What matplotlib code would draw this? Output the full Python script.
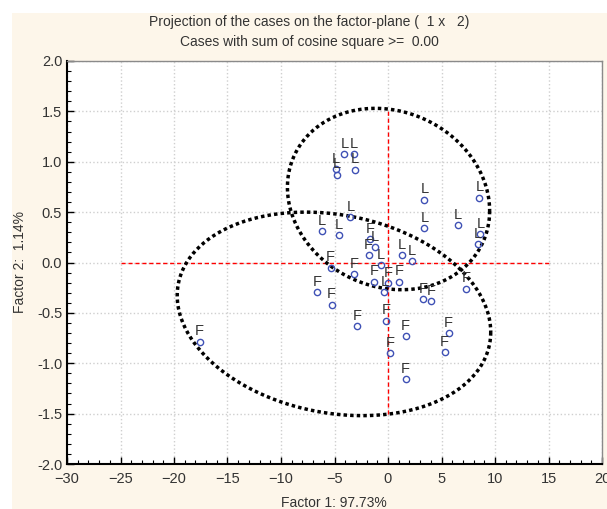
import numpy as np
import matplotlib
matplotlib.use('Agg')
import matplotlib.pyplot as plt
from matplotlib.patches import Rectangle
from matplotlib.ticker import MultipleLocator

plt.rcParams['font.family'] = ['Liberation Sans', 'DejaVu Sans']

# case coordinates (factor 1, factor 2)
l_x = [-4.08, -3.21, -4.86, -4.80, -3.06, 3.40, 8.54, -3.52, -6.17, -4.61,
       3.40, 6.57, 8.63, 8.44, -1.19, 1.31, 2.21, -0.69, -0.34]
l_y = [1.074, 1.074, 0.928, 0.872, 0.921, 0.623, 0.643, 0.449, 0.313, 0.273,
       0.342, 0.369, 0.283, 0.180, 0.154, 0.071, 0.015, -0.025, -0.296]
f_x = [-1.68, -1.81, -5.36, -3.15, -1.28, 0.03, 1.06, -6.60, -5.26, 3.27,
       4.02, 7.32, -2.87, -0.16, 1.65, 5.67, 0.22, 5.30, 1.65, -17.6]
f_y = [0.230, 0.074, -0.051, -0.114, -0.190, -0.207, -0.190, -0.296, -0.419, -0.362,
       -0.382, -0.260, -0.634, -0.577, -0.730, -0.700, -0.902, -0.892, -1.160, -0.786]

title1 = 'Projection of the cases on the factor-plane (  1 x   2)'
title2 = 'Cases with sum of cosine square >=  0.00'
xlabel = 'Factor 1: 97.73%'
ylabel = 'Factor 2:  1.14%'

txt = '#333333'
fig = plt.figure(figsize=(6.07, 5.09), dpi=100)
fig.patches.append(Rectangle((12/607, 0), 1, 1 - 13/509, transform=fig.transFigure,
                             facecolor='#fdf6ea', edgecolor='none', zorder=-10))
ax = fig.add_axes([67/607, 1 - 464/509, 535/607, 403/509])
ax.set_facecolor('white')

ax.set_xlim(-30, 20)
ax.set_ylim(-2.0, 2.0)
ax.xaxis.set_major_locator(MultipleLocator(5))
ax.xaxis.set_minor_locator(MultipleLocator(1))
ax.yaxis.set_major_locator(MultipleLocator(0.5))
ax.yaxis.set_minor_locator(MultipleLocator(0.1))
ax.yaxis.set_major_formatter(matplotlib.ticker.FormatStrFormatter('%.1f'))
ax.grid(True, which='major', color='#cfcfcf', linestyle=':', linewidth=1)
ax.set_axisbelow(True)
ax.tick_params(which='both', direction='in', colors='black', labelcolor=txt, labelsize=10.5)
ax.tick_params(which='major', length=5, width=1)
ax.tick_params(which='minor', length=3, width=0.8)
ax.tick_params(axis='x', pad=6)
for s in ['left', 'bottom']:
    ax.spines[s].set_linewidth(1.5)
    ax.spines[s].set_color('black')
for s in ['top', 'right']:
    ax.spines[s].set_linewidth(1)
    ax.spines[s].set_color('#8a8a8a')

# red reference lines
ax.plot([-25, 15], [0, 0], color='red', linestyle=(0, (3, 2)), linewidth=1, zorder=2)
ax.plot([0, 0], [-1.5, 1.5], color='red', linestyle=(0, (3, 2)), linewidth=1, zorder=2)

# ellipses around the two groups
t = np.linspace(0, 2*np.pi, 400)
for cx, cy, w, h, c in [(0.05, 0.63, 9.45, 0.90, -0.13), (-5.05, -0.51, 14.65, 1.01, -0.18)]:
    phi = np.arccos(c)
    ax.plot(cx + w*np.cos(t), cy + h*np.cos(t + phi), color='black',
            linestyle=(0, (1, 0.9)), linewidth=2.5, dash_capstyle='butt', zorder=3)

for xs, ys, lab in [(l_x, l_y, 'L'), (f_x, f_y, 'F')]:
    ax.plot(xs, ys, 'o', markerfacecolor='none', markeredgecolor='#3f51b5',
            markersize=4.5, markeredgewidth=1, linestyle='none', zorder=4)
    for x, y in zip(xs, ys):
        ax.annotate(lab, (x, y), xytext=(0, 4.5), textcoords='offset points',
                    ha='center', va='baseline', fontsize=10.5, color=txt, zorder=5)

fig.text(309.5/607, 1 - 22/509, title1, ha='center', va='center', fontsize=10, color=txt)
fig.text(309.5/607, 1 - 42/509, title2, ha='center', va='center', fontsize=10, color=txt)
fig.text(334/607, 1 - 503/509, xlabel, ha='center', va='center', fontsize=10, color=txt)
fig.text(20/607, 1 - 262/509, ylabel, ha='center', va='center', fontsize=10,
         color=txt, rotation=90)

fig.savefig('out.png', dpi=100)
